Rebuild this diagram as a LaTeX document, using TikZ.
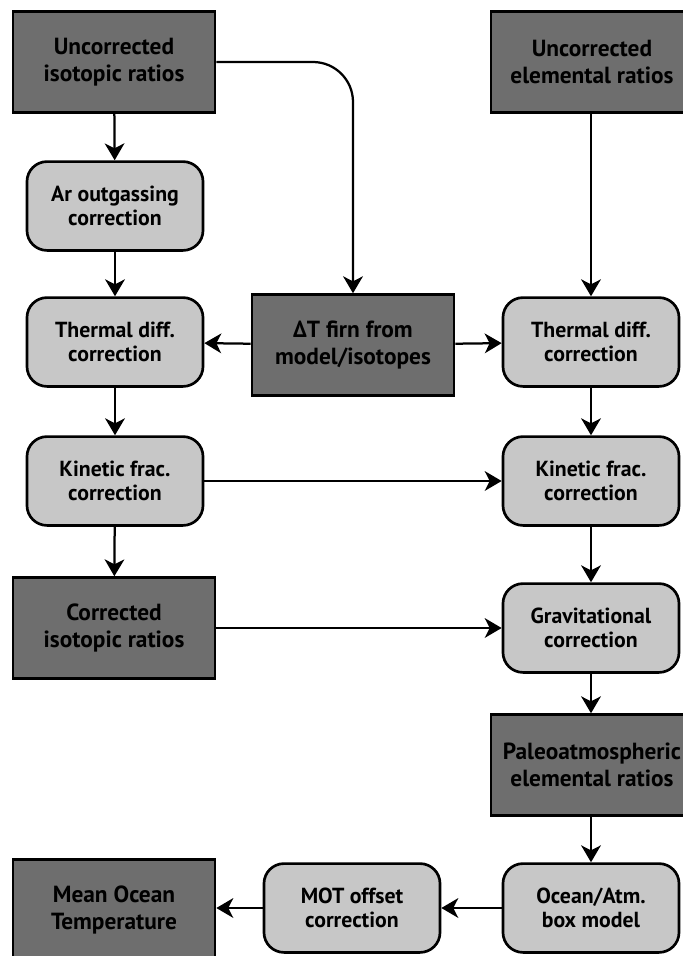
\documentclass[tikz,border=0pt]{standalone}
\usepackage{fontspec}
\setmainfont{PT Sans}
\usetikzlibrary{arrows.meta, positioning}

\begin{document}
\begin{tikzpicture}[x=0.025cm, y=-0.025cm,
        darkbox/.style={rectangle, draw=black, fill=black!57, line width=1.9pt, align=center, minimum width=5.05cm, minimum height=2.52cm, font=\bfseries\fontsize{16.6}{19}\selectfont},
        corrbox/.style={rectangle, draw=black, fill=black!22, line width=1.9pt, align=center, minimum width=4.4cm, minimum height=2.22cm, rounded corners=0.5cm, font=\bfseries\fontsize{15.5}{17.5}\selectfont},
        arrow/.style={-{Stealth[length=12pt, width=14pt, inset=3.5pt]}, line width=1.6pt}
    ]
        \useasboundingbox (0,0) rectangle (683,956);
        \clip (0,0) rectangle (683,956);

        % Inputs
        \node[darkbox] (uiso) at (114, 62) {Uncorrected\\isotopic ratios};
        \node[darkbox] (uelem) at (592, 62) {Uncorrected\\elemental ratios};
        \node[darkbox] (dT) at (353, 345) {ΔT firn from\\model/isotopes};

        % Isotope branch
        \node[corrbox] (argas) at (115, 206) {Ar outgassing\\correction};
        \node[corrbox] (thermL) at (115, 342) {Thermal diff.\\correction};
        \node[corrbox] (kinL) at (115, 481) {Kinetic frac.\\correction};
        \node[darkbox] (ciso) at (114, 628) {Corrected\\isotopic ratios};

        % Elemental branch
        \node[corrbox] (thermR) at (591, 342) {Thermal diff.\\correction};
        \node[corrbox] (kinR) at (591, 481) {Kinetic frac.\\correction};
        \node[corrbox] (grav) at (591, 628) {Gravitational\\correction};
        \node[darkbox] (paleo) at (592, 765) {Paleoatmospheric\\elemental ratios};

        % Output
        \node[corrbox] (box) at (591, 908) {Ocean/Atm.\\box model};
        \node[corrbox] (mot) at (352, 908) {MOT offset\\correction};
        \node[darkbox] (mean) at (114, 910) {Mean Ocean\\Temperature};

        % Arrows
        \draw[arrow, rounded corners=1cm] (uiso.east) -| (dT.north);
        \draw[arrow] (uiso) -- (argas);
        \draw[arrow] (argas) -- (thermL);
        \draw[arrow] (thermL) -- (kinL);
        \draw[arrow] (kinL) -- (ciso);
        \draw[arrow] (dT) -- (thermL);
        \draw[arrow] (dT) -- (thermR);
        \draw[arrow] (uelem.south -| thermR) -- (thermR);
        \draw[arrow] (thermR) -- (kinR);
        \draw[arrow] (kinL) -- (kinR);
        \draw[arrow] (kinR) -- (grav);
        \draw[arrow] (ciso) -- (grav);
        \draw[arrow] (grav) -- (grav |- paleo.north);
        \draw[arrow] (paleo.south -| box) -- (box);
        \draw[arrow] (box) -- (mot);
        \draw[arrow] (mot) -- (mot.west -| mean.east);

    \end{tikzpicture}
\end{document}
